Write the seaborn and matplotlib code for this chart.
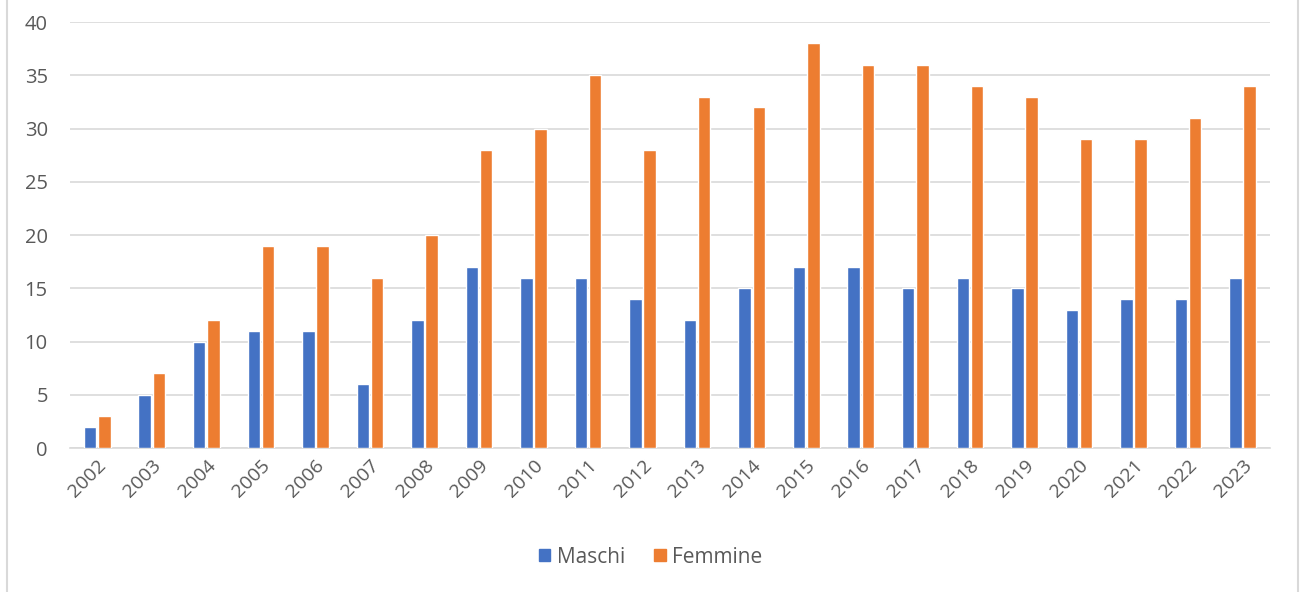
import pandas as pd
import matplotlib
matplotlib.use("Agg")
import matplotlib.pyplot as plt
import seaborn as sns
from matplotlib.patches import Rectangle

anni = [str(a) for a in range(2002, 2024)]
maschi = [2, 5, 10, 11, 11, 6, 12, 17, 16, 16, 14, 12, 15, 17, 17, 15, 16, 15, 13, 14, 14, 16]
femmine = [3, 7, 12, 19, 19, 16, 20, 28, 30, 35, 28, 33, 32, 38, 36, 36, 34, 33, 29, 29, 31, 34]
yticks = [0, 5, 10, 15, 20, 25, 30, 35, 40]

df = pd.DataFrame({
    "Anno": anni * 2,
    "Valore": maschi + femmine,
    "Sesso": ["Maschi"] * len(anni) + ["Femmine"] * len(anni),
})

sns.set_style("white")
plt.rcParams["font.family"] = ["Open Sans", "DejaVu Sans"]
testo = "#595959"
griglia = "#D9D9D9"

fig = plt.figure(figsize=(13.01, 5.92), dpi=100)
ax = fig.add_axes([0.0538, 0.2432, 0.9222, 0.7196])

sns.barplot(data=df, x="Anno", y="Valore", hue="Sesso",
            palette={"Maschi": "#4472C4", "Femmine": "#ED7D31"}, saturation=1,
            width=0.52, gap=0.12, ax=ax, legend=False, zorder=3)

ax.set_ylim(0, 40)
ax.set_yticks(yticks)
ax.set_xlim(-0.5, len(anni) - 0.5)
ax.yaxis.grid(True, color=griglia, linewidth=1.2, zorder=0)
ax.set_axisbelow(True)
for s in ["top", "right", "left"]:
    ax.spines[s].set_visible(False)
ax.spines["bottom"].set_color(griglia)
ax.spines["bottom"].set_linewidth(1.2)
ax.set_xlabel("")
ax.set_ylabel("")
ax.tick_params(axis="both", length=0, colors=testo)
ax.tick_params(axis="y", pad=16, labelsize=14.5)
ax.tick_params(axis="x", pad=6, labelsize=14)
plt.setp(ax.get_xticklabels(), rotation=45, ha="right", rotation_mode="anchor")

handles = [Rectangle((0, 0), 1, 1, color="#4472C4"), Rectangle((0, 0), 1, 1, color="#ED7D31")]
leg = fig.legend(handles, ["Maschi", "Femmine"], loc="center", bbox_to_anchor=(0.5, 0.059),
                 ncol=2, frameon=False, fontsize=15, handlelength=0.55, handleheight=0.55,
                 handletextpad=0.3, columnspacing=1.4)
for t in leg.get_texts():
    t.set_color(testo)

fig.patches.append(Rectangle((0.005, -0.01), 0.993, 1.02, transform=fig.transFigure,
                             fill=False, edgecolor="#D9D9D9", linewidth=1.5))

fig.savefig("out.png", dpi=100)
